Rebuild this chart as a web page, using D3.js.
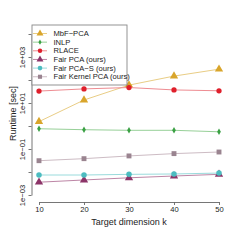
<!DOCTYPE html>
<html>
<head>
<meta charset="utf-8">
<script src="https://cdn.jsdelivr.net/npm/d3@7"></script>
<style>
  body { margin: 0; background: #fff; }
  svg text { font-family: "Liberation Sans", Arial, sans-serif; }
</style>
</head>
<body>
<script>
// runtime data
const dims = [10, 20, 30, 40, 50];
const mbfPca = [1.55, 13.5, 60, 148, 295];
const inlp = [0.76, 0.69, 0.65, 0.65, 0.56];
const rlace = [33, 41, 47, 37, 34];
const fairPca = [0.0036, 0.0045, 0.0056, 0.0067, 0.0079];
const fairPcaS = [0.0074, 0.0074, 0.0079, 0.0082, 0.009];
const fairKernel = [0.031, 0.038, 0.05, 0.063, 0.074];

const seriesNames = ['MbF\u2212PCA', 'INLP', 'RLACE', 'Fair PCA (ours)', 'Fair PCA\u2212S (ours)', 'Fair Kernel PCA (ours)'];
const xTicks = [10, 20, 30, 40, 50];
const yTicks = [1e-3, 1e-2, 1e-1, 1e0, 1e1, 1e2, 1e3, 1e4];
const yLabels = {'0.001': '1e\u221203', '0.1': '1e\u221201', '10': '1e+01', '1000': '1e+03'};

const series = [
  {name: seriesNames[0], values: mbfPca, color: '#d9a52b', line: '#e9cd85', shape: 'tri', size: 30},
  {name: seriesNames[1], values: inlp, color: '#3aa043', line: '#97d098', shape: 'dia', size: 12},
  {name: seriesNames[2], values: rlace, color: '#df1f2b', line: '#ee8c92', shape: 'circ', size: 22},
  {name: seriesNames[3], values: fairPca, color: '#8c3468', line: '#bd86a6', shape: 'tri', size: 30},
  {name: seriesNames[4], values: fairPcaS, color: '#4cbcc0', line: '#9adbdc', shape: 'circ', size: 24},
  {name: seriesNames[5], values: fairKernel, color: '#9a8490', line: '#cdbcc4', shape: 'sq', size: 24}
];

const width = 240, height = 240;
const svg = d3.select('body').append('svg')
  .attr('width', width)
  .attr('height', height);

const x = d3.scaleLinear().domain([10, 50]).range([39, 219]);
const y = d3.scaleLog().domain([1e-3, 1e4]).range([195, 34]);

const symbolType = {
  tri: d3.symbolTriangle,
  dia: d3.symbolDiamond,
  circ: d3.symbolCircle,
  sq: d3.symbolSquare
};

// axes
const xAxis = svg.append('g')
  .attr('transform', 'translate(0,202)')
  .call(d3.axisBottom(x).tickValues(xTicks).tickSize(3).tickSizeOuter(0).tickPadding(2));
xAxis.selectAll('text').attr('font-size', 7.6).attr('fill', '#222');

const yAxis = svg.append('g')
  .attr('transform', 'translate(31.5,0)')
  .call(d3.axisLeft(y).tickValues(yTicks).tickSize(3).tickSizeOuter(0)
    .tickFormat(d => yLabels[String(d)] || ''));
yAxis.selectAll('text')
  .attr('x', 0).attr('y', 0).attr('dy', 0)
  .attr('text-anchor', 'middle')
  .attr('transform', 'translate(-6.5,0) rotate(-90)')
  .attr('font-size', 7.6).attr('fill', '#222');

svg.selectAll('.domain, .tick line').attr('stroke', '#666').attr('stroke-width', 0.9);

svg.append('text')
  .attr('x', 129).attr('y', 225)
  .attr('text-anchor', 'middle')
  .attr('font-size', 9)
  .attr('fill', '#222')
  .text('Target dimension k');

svg.append('text')
  .attr('transform', 'translate(16,113.5) rotate(-90)')
  .attr('text-anchor', 'middle')
  .attr('font-size', 9)
  .attr('fill', '#222')
  .text('Runtime [sec]');

// lines and markers
const line = d3.line()
  .x((d, i) => x(dims[i]))
  .y(d => y(d));

series.forEach(s => {
  svg.append('path')
    .datum(s.values)
    .attr('fill', 'none')
    .attr('stroke', s.line)
    .attr('stroke-width', 1)
    .attr('d', line);
  svg.selectAll(null)
    .data(s.values)
    .enter()
    .append('path')
    .attr('transform', (d, i) => `translate(${x(dims[i])},${y(d)})`)
    .attr('d', d3.symbol().type(symbolType[s.shape]).size(s.size))
    .attr('fill', s.color);
});

// legend
const legend = svg.append('g');
legend.append('rect')
  .attr('x', 32).attr('y', 25)
  .attr('width', 95).attr('height', 60)
  .attr('fill', '#fff')
  .attr('stroke', '#888')
  .attr('stroke-width', 0.9);

const rows = legend.selectAll('g.row')
  .data(series)
  .enter()
  .append('g')
  .attr('class', 'row')
  .attr('transform', (d, i) => `translate(0,${33.5 + i * 8.65})`);

rows.append('line')
  .attr('x1', 33).attr('x2', 47)
  .attr('stroke', d => d.line)
  .attr('stroke-width', 1);

rows.append('path')
  .attr('transform', 'translate(40,0)')
  .attr('d', d => d3.symbol().type(symbolType[d.shape]).size(d.size * 0.7)())
  .attr('fill', d => d.color);

rows.append('text')
  .attr('x', 53.5).attr('y', 2.6)
  .attr('font-size', 7.6)
  .attr('fill', '#222')
  .text(d => d.name);
</script>
</body>
</html>
